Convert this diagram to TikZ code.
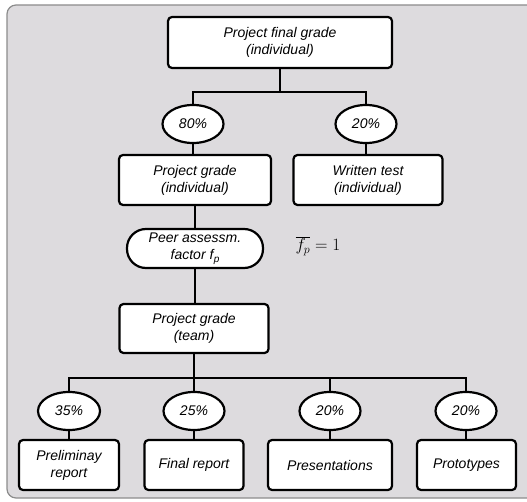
\documentclass[tikz,border=0pt]{standalone}
\usepackage{fontspec}
\setmainfont{Liberation Sans}
\usetikzlibrary{shapes.geometric}
\definecolor{bggray}{RGB}{221,219,222}
\definecolor{bgline}{RGB}{140,140,140}
\tikzset{
  box/.style={draw=black, line width=2.2pt, fill=white, rounded corners=4pt, align=center, inner sep=0pt,
    font=\fontsize{14}{17}\selectfont\itshape},
  pct/.style={draw=black, line width=2.2pt, fill=white, ellipse, minimum width=61pt, minimum height=38pt, inner sep=0pt,
    font=\fontsize{14}{17}\selectfont\itshape},
  link/.style={draw=black, line width=2.2pt},
}
\begin{document}
\begin{tikzpicture}[x=1pt,y=-1pt]
\useasboundingbox (0,0) rectangle (527,502);
\begin{scope}
\clip (0,0) rectangle (527,502);
\draw[fill=bggray, draw=bgline, line width=1.2pt, rounded corners=9pt] (7,5) rectangle (545,498);
\end{scope}

% nodes
\node[box, minimum width=224pt, minimum height=51pt] (top) at (280,42.5) {Project final grade\\(individual)};
\node[pct] (e80) at (193,124) {80\%};
\node[pct] (e20) at (366,124) {20\%};
\node[box, minimum width=152pt, minimum height=50pt] (pgi) at (195,180) {Project grade\\(individual)};
\node[box, minimum width=149pt, minimum height=50pt] (wt) at (368,180) {Written test\\(individual)};
\node[box, rounded corners=19pt, minimum width=136pt, minimum height=39pt] (peer) at (195,248.5)
  {Peer assessm.\\factor f\kern0.3pt\raisebox{-3pt}{\fontsize{10}{10}\selectfont p}};
\node[font=\fontsize{18}{20}\selectfont] (fbar) at (318,246) {$\overline{f_p}=1$};
\node[box, minimum width=149pt, minimum height=49pt] (pgt) at (194,328.5) {Project grade\\(team)};

\node[pct, minimum width=62pt] (e35) at (69,411) {35\%};
\node[pct] (e25) at (194,411) {25\%};
\node[pct] (e20a) at (330,411) {20\%};
\node[pct] (e20b) at (466,411) {20\%};

\node[box, minimum width=100pt, minimum height=50pt] (pre) at (69,465) {Preliminay\\report};
\node[box, minimum width=99pt, minimum height=50pt] (fin) at (194,465) {Final report};
\node[box, minimum width=124pt, minimum height=50pt] (pres) at (330,465) {Presentations};
\node[box, minimum width=99pt, minimum height=50pt] (proto) at (466.5,465) {Prototypes};

% connectors
\coordinate (b1) at (280,92);
\coordinate (b2) at (194,378);
\draw[link] (top.south) -- (b1);
\draw[link] (e80.north) |- (b1);
\draw[link] (e20.north) |- (b1);
\draw[link] (e80.south) -- (e80.south |- pgi.north);
\draw[link] (e20.south) -- (e20.south |- wt.north);
\draw[link] (pgi.south -| peer.north) -- (peer.north);
\draw[link] (peer.south) -- (peer.south |- pgt.north);
\draw[link] (pgt.south) -- (b2);
\draw[link] (e35.north) |- (b2);
\draw[link] (e20b.north) |- (b2);
\draw[link] (e25.north) -- (b2);
\draw[link] (e20a.north) -- (e20a.north |- b2);
\draw[link] (e35.south) -- (pre.north);
\draw[link] (e25.south) -- (fin.north);
\draw[link] (e20a.south) -- (pres.north);
\draw[link] (e20b.south) -- (e20b.south |- proto.north);
\end{tikzpicture}
\end{document}
